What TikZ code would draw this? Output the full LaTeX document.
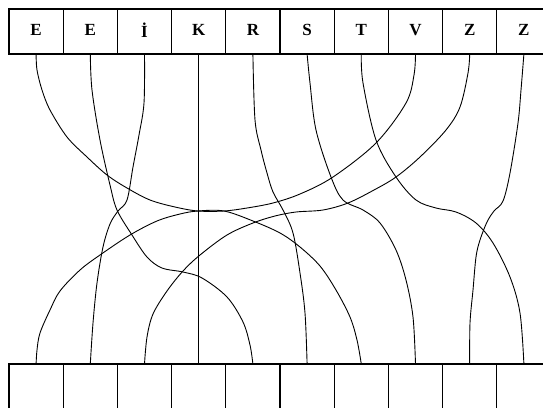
\documentclass[tikz,border=0pt]{standalone}
\usepackage{fontspec}
\setmainfont{Liberation Serif}
\begin{document}
\begin{tikzpicture}[x=1pt,y=-1pt,
  cellbox/.style={draw, line width=1.1pt, minimum width=54.2pt, minimum height=45pt, inner sep=0pt, outer sep=0pt, font=\fontsize{17}{17}\selectfont\bfseries},
  wire/.style={line width=0.9pt, line join=round, smooth, tension=0.55}]
\useasboundingbox (0,0) rectangle (543,407);
\clip (0,0) rectangle (543,407);
\foreach \lbl [count=\i] in {E,E,İ,K,R,S,T,V,Z,Z} {
  \node[cellbox] (t\i) at ({9+54.2*(\i-0.5)},31.5) {\raisebox{3pt}{\lbl}};
  \node[cellbox] (b\i) at ({9+54.2*(\i-0.5)},386.5) {};
}
% U arc: E (t1) to V (t8)
\draw[wire] plot coordinates {(t1.south) (37,70) (42,90) (50,110) (67,137) (87,157) (107,175) (127,188) (150,200) (175,207) (198,211) (224,211) (247,208) (273,203) (300,194) (333,177) (376,143) (406,103) (414,75) (t8.south)};
% cap arc: b1 to b7
\draw[wire] plot coordinates {(b1.north) (37,350) (40,333) (50,310) (60,291) (80,270) (100,255) (130,235) (157,221) (180,214) (198,211) (224,211) (253,221) (280,233) (300,247) (320,266) (336,290) (350,317) (357,340) (b7.north)};
% E (t2) to b5
\draw[wire] plot coordinates {(t2.south) (92,90) (100,140) (110,185) (117,210) (132,235) (147,257) (162,268) (183,272) (202,278) (227,297) (243,322) (250,345) (b5.north)};
% I (t3) to b2
\draw[wire] plot coordinates {(t3.south) (144,103) (139,135) (133,167) (127,200) (118,211) (110,224) (103,247) (97,283) (93,323) (b2.north)};
% K straight
\draw[wire] (t4.south) -- (b4.north);
% R (t5) to b6
\draw[wire] plot coordinates {(t5.south) (255,120) (261,150) (267,173) (273,192) (283,210) (293,233) (300,273) (305,313) (b6.north)};
% S (t6) to b8
\draw[wire] plot coordinates {(t6.south) (310,83) (316,130) (331,177) (343,200) (363,210) (380,223) (396,250) (406,280) (413,317) (b8.north)};
% T (t7) to b10
\draw[wire] plot coordinates {(t7.south) (363,83) (376,140) (396,177) (416,200) (436,208) (456,212) (476,223) (493,243) (510,277) (520,313) (b10.north)};
% Z (t9) to b3
\draw[wire] plot coordinates {(t9.south) (468,73) (460,107) (446,130) (420,157) (396,177) (374,190) (348,203) (323,210) (296,212) (275,216) (253,223) (227,235) (200,255) (183,271) (167,291) (153,314) (147,337) (b3.north)};
% Z (t10) to b9
\draw[wire] plot coordinates {(t10.south) (521,90) (518,123) (510,173) (503,201) (494,211) (487,222) (480,240) (476,257) (473,290) (470,323) (b9.north)};
\end{tikzpicture}
\end{document}
